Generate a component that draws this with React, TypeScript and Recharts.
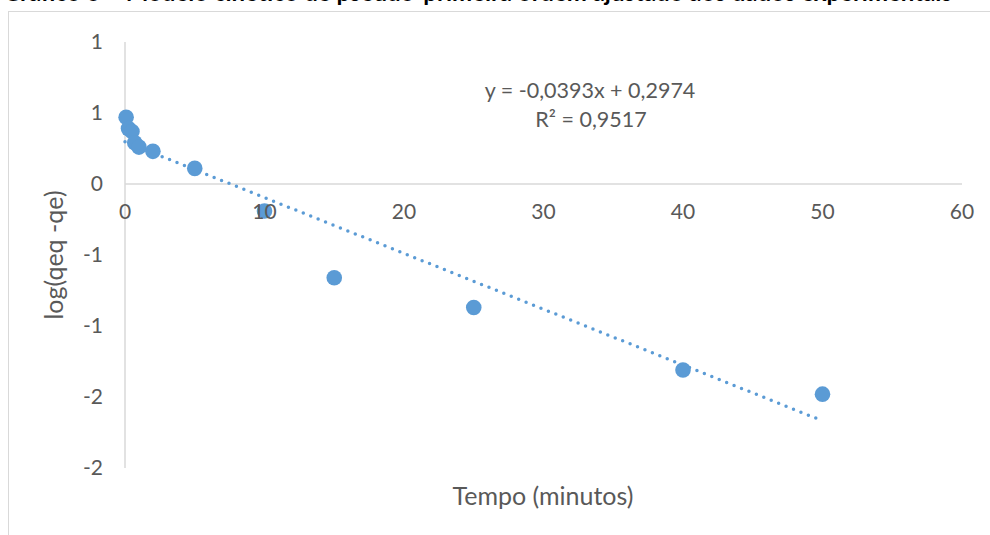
import React from "react"
import { ComposedChart, Scatter, XAxis, YAxis, ReferenceLine, ReferenceDot } from "recharts"

// tempo (min) vs log(qeq - qe)
const tempo = [0.08, 0.25, 0.5, 0.7, 1, 2, 5, 10, 15, 25, 40, 50]
const logQ = [0.47, 0.39, 0.37, 0.29, 0.26, 0.23, 0.11, -0.19, -0.66, -0.87, -1.31, -1.48]

// linear trendline endpoints (y = -0,0393x + 0,2974)
const trendX = [0, 50]
const trendY = [0.2974, -1.6676]

const xTicks = [0, 10, 20, 30, 40, 50, 60]
const yTicks = [-2, -1.5, -1, -0.5, 0, 0.5, 1]

const points = tempo.map((x, i) => ({ x, y: logQ[i] }))
const trend = trendX.map((x, i) => ({ x, y: trendY[i] }))

const BLUE = "#5b9bd5"
const GRAY = "#595959"
const GRID = "#d9d9d9"
const FONT = "Lato, 'Open Sans', sans-serif"

// Excel rounds the 0.5 ticks away from zero when showing 0 decimals
const fmtY = (v: number) => String(Math.sign(v) * Math.round(Math.abs(v)))

const Dot = (p: any) => <circle cx={p.cx} cy={p.cy} r={7.8} fill={BLUE} />

export default function App() {
  return (
    <div style={{ position: "absolute", left: 0, top: 0, width: 990, height: 535, background: "#fff", overflow: "hidden" }}>
      <div style={{ position: "absolute", left: 8, top: 11, width: 990, height: 540, borderLeft: `1.5px solid ${GRID}`, borderTop: `1.5px solid ${GRID}` }} />
      <ComposedChart width={990} height={535} margin={{ top: 42, right: 28, left: 0, bottom: 67 }} style={{ position: "absolute", left: 0, top: 0 }}>
        <XAxis type="number" dataKey="x" domain={[0, 60]} ticks={xTicks} hide />
        <YAxis type="number" dataKey="y" domain={[-2, 1]} ticks={yTicks} width={125} tickFormatter={fmtY}
          axisLine={{ stroke: GRID, strokeWidth: 1.5 }} tickLine={false} tickMargin={16}
          tick={{ fill: GRAY, fontSize: 21, fontFamily: FONT }} />
        <ReferenceLine y={0} stroke={GRID} strokeWidth={1.5} />
        {xTicks.map((t) => (
          <ReferenceDot key={t} x={t} y={0} r={0} stroke="none" fill="none"
            label={{ value: String(t), position: "bottom", offset: 20, fill: GRAY, fontSize: 21, fontFamily: FONT }} />
        ))}
        <Scatter data={trend} isAnimationActive={false} shape={() => <g />}
          line={{ stroke: BLUE, strokeWidth: 3.5, strokeDasharray: "0 8", strokeLinecap: "round" }} />
        <Scatter data={points} isAnimationActive={false} shape={Dot} />
      </ComposedChart>
      <svg width={990} height={535} style={{ position: "absolute", left: 0, top: 0, pointerEvents: "none" }}>
        <text x={952} y={1} textAnchor="end" fontFamily={FONT} fontWeight="bold" fontSize={24} fill="#000">
          Gráfico 6 – Modelo cinético de pseudo-primeira ordem ajustado aos dados experimentais
        </text>
        <text x={590} y={98} textAnchor="middle" fontFamily={FONT} fontSize={21.5} fill={GRAY}>y = -0,0393x + 0,2974</text>
        <text x={591} y={127} textAnchor="middle" fontFamily={FONT} fontSize={21.5} fill={GRAY}>R² = 0,9517</text>
        <text x={543} y={505} textAnchor="middle" fontFamily={FONT} fontSize={25} fill={GRAY}>Tempo (minutos)</text>
        <text transform="translate(63,255) rotate(-90)" textAnchor="middle" fontFamily={FONT} fontSize={25} fill={GRAY}>log(qeq -qe)</text>
      </svg>
    </div>
  )
}
